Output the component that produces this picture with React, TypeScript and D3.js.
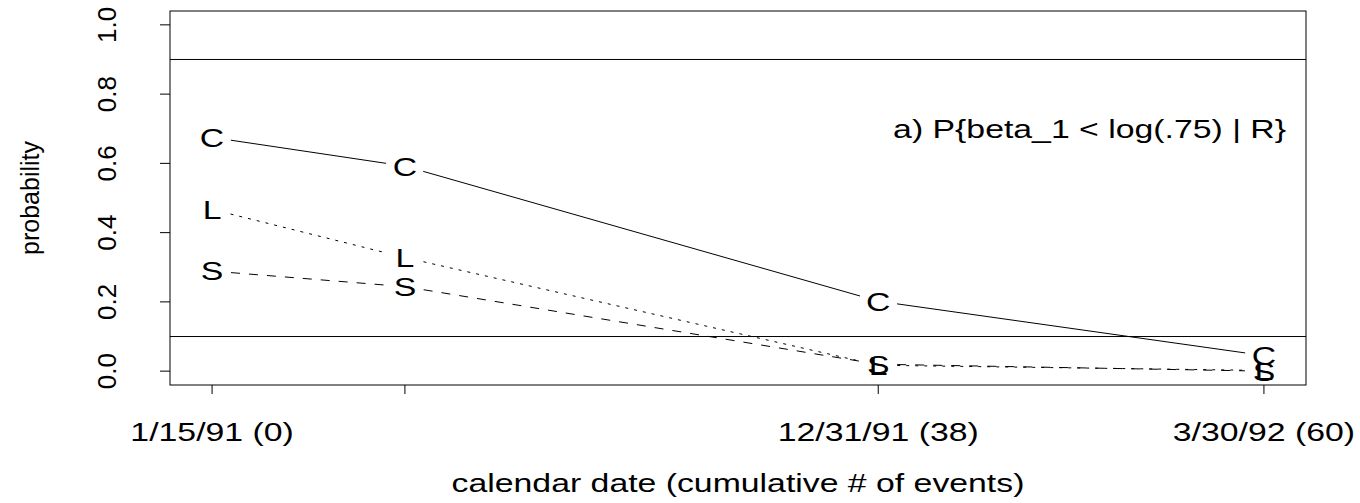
import React from 'react';
import * as d3 from 'd3';

// cumulative # of events at each look, and the date labels for the axis
const events = [0, 11, 38, 60];
const dateLabels = ['1/15/91 (0)', '', '12/31/91 (38)', '3/30/92 (60)'];

// posterior probabilities, one series per prior
const probC = [0.675, 0.592, 0.202, 0.045];
const probL = [0.467, 0.328, 0.017, 0.002];
const probS = [0.289, 0.244, 0.02, 0.0];

const yTicks = [0, 0.2, 0.4, 0.6, 0.8, 1.0];
const refLines = [0.1, 0.9];

const series = [
  { key: 'C', values: probC, dash: null },
  { key: 'L', values: probL, dash: '3,6' },
  { key: 'S', values: probS, dash: '9,9' },
];

const W = 1360;
const H = 503;
const FONT = '"Liberation Sans", Arial, Helvetica, sans-serif';
const STRETCH = 1.3; // horizontal text in the original is widened

const App = () => {
  const box = { left: 170, right: 1306, top: 11, bottom: 385 };

  const x = d3.scaleLinear().domain([-2.4, 62.4]).range([box.left, box.right]);
  const y = d3.scaleLinear().domain([-0.04, 1.04]).range([box.bottom, box.top]);

  const line = d3.line();
  const gap = 19;

  // type="b": segments between points, with a gap round each letter
  const segments = (vals) => {
    const out = [];
    for (let i = 0; i < vals.length - 1; i++) {
      const x1 = x(events[i]), y1 = y(vals[i]);
      const x2 = x(events[i + 1]), y2 = y(vals[i + 1]);
      const len = Math.hypot(x2 - x1, y2 - y1);
      if (len <= 2 * gap) continue;
      const ux = (x2 - x1) / len, uy = (y2 - y1) / len;
      out.push(line([[x1 + ux * gap, y1 + uy * gap], [x2 - ux * gap, y2 - uy * gap]]));
    }
    return out;
  };

  const hText = (tx, ty, str, anchor = 'middle') => (
    <text transform={`translate(${tx},${ty}) scale(${STRETCH},1)`} textAnchor={anchor}
      fontFamily={FONT} fontSize={26} fill="black">{str}</text>
  );

  return (
    <svg width={W} height={H} style={{ position: 'absolute', left: 0, top: 0, background: 'white' }}>
      {/* plot box */}
      <rect x={box.left} y={box.top} width={box.right - box.left} height={box.bottom - box.top}
        fill="none" stroke="black" strokeWidth={1} />

      {/* reference lines */}
      {refLines.map(v => (
        <line key={v} x1={box.left} x2={box.right} y1={y(v)} y2={y(v)} stroke="black" strokeWidth={1} />
      ))}

      {/* y axis */}
      {yTicks.map(t => (
        <g key={t}>
          <line x1={box.left - 10} x2={box.left} y1={y(t)} y2={y(t)} stroke="black" />
          <text transform={`translate(116,${y(t)}) rotate(-90)`} textAnchor="middle"
            fontFamily={FONT} fontSize={26} fill="black">{t.toFixed(1)}</text>
        </g>
      ))}
      <text transform={`translate(39,${(box.top + box.bottom) / 2}) rotate(-90)`} textAnchor="middle"
        fontFamily={FONT} fontSize={25} fill="black">probability</text>

      {/* x axis */}
      {events.map((e, i) => (
        <g key={e}>
          <line x1={x(e)} x2={x(e)} y1={box.bottom} y2={box.bottom + 9} stroke="black" />
          {dateLabels[i] && hText(x(e), 441, dateLabels[i])}
        </g>
      ))}
      {hText((box.left + box.right) / 2, 492, 'calendar date (cumulative # of events)')}

      {/* series */}
      {series.map(s => (
        <g key={s.key}>
          {segments(s.values).map((d, i) => (
            <path key={i} d={d} fill="none" stroke="black" strokeWidth={1}
              strokeDasharray={s.dash || undefined} />
          ))}
          {s.values.map((v, i) => (
            <text key={i} transform={`translate(${x(events[i])},${y(v)}) scale(${STRETCH},1)`}
              textAnchor="middle" dy="0.36em" fontFamily={FONT} fontSize={26} fill="black">{s.key}</text>
          ))}
        </g>
      ))}

      {hText(1286, 138, 'a) P{beta_1 < log(.75) | R}', 'end')}
    </svg>
  );
};

export default App;
